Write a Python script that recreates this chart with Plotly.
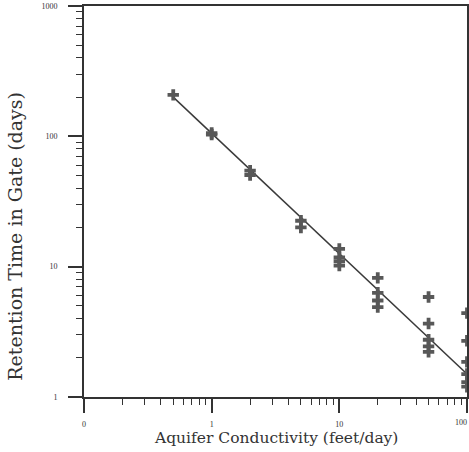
import plotly.graph_objects as go

# Data (log-log)
conductivity = [0.5, 1, 1, 2, 2, 5, 5, 10, 10, 10, 10, 20, 20, 20, 20,
                50, 50, 50, 50, 50, 100, 100, 100, 100, 100, 100]
retention = [208, 103, 106, 54.5, 50.5, 22.5, 20, 13.7, 11.8, 11, 10.2,
             8.2, 6.3, 5.5, 4.9, 5.85, 3.66, 2.75, 2.45, 2.22,
             4.4, 2.7, 1.86, 1.5, 1.3, 1.2]

fit_x = [0.5, 100]
fit_y = [200, 1.5]

x_tickvals = [0.1, 1, 10, 100]
x_ticktext = ["0", "1", "10", "100"]
y_tickvals = [1, 10, 100, 1000]
y_ticktext = ["1", "10", "100", "1000"]

x_minor = [m * d for d in [0.1, 1, 10] for m in range(2, 10)]
y_minor = [m * d for d in [1, 10, 100] for m in range(2, 10)]

ink = "#333333"
serif = "DejaVu Serif"
tickfont = dict(family="Liberation Serif", size=8, color=ink)

fig = go.Figure()
fig.add_trace(go.Scatter(x=fit_x, y=fit_y, mode="lines",
                         line=dict(color="#3a3a3a", width=1.5),
                         showlegend=False, hoverinfo="skip"))
fig.add_trace(go.Scatter(x=conductivity, y=retention, mode="markers",
                         marker=dict(symbol="cross", size=9.5, color="#585858",
                                     line=dict(width=0)),
                         cliponaxis=False, showlegend=False))

axis_common = dict(
    type="log", showgrid=False, zeroline=False,
    showline=True, linecolor=ink, linewidth=2, mirror=True,
    ticks="outside", ticklen=14, tickwidth=1.5, tickcolor=ink,
    tickmode="array", tickfont=tickfont, automargin=False,
)

fig.update_xaxes(**axis_common, range=[-1, 2],
                 tickvals=x_tickvals, ticktext=x_ticktext,
                 ticklabelstandoff=4,
                 minor=dict(tickmode="array", tickvals=x_minor, ticks="outside",
                            ticklen=6, tickwidth=1.2, tickcolor=ink, showgrid=False))
fig.update_yaxes(**axis_common, range=[0, 3],
                 tickvals=y_tickvals, ticktext=y_ticktext,
                 ticklabelstandoff=9,
                 minor=dict(tickmode="array", tickvals=y_minor, ticks="outside",
                            ticklen=6, tickwidth=1.2, tickcolor=ink, showgrid=False))

# last x tick label at the right edge, nudged inward so it stays fully visible
fig.add_annotation(text=x_ticktext[-1], xref="paper", yref="paper",
                   x=1, y=0, yshift=-25, xshift=-6, xanchor="center", yanchor="middle",
                   showarrow=False, font=tickfont)

fig.add_annotation(text="Aquifer Conductivity (feet/day)", xref="paper", yref="paper",
                   x=0.501, y=0, yshift=-41, xanchor="center", yanchor="middle",
                   showarrow=False, font=dict(family=serif, size=15.5, color=ink))
fig.add_annotation(text="Retention Time in Gate (days)", xref="paper", yref="paper",
                   x=-0.18, y=0.41, xanchor="center", yanchor="middle", textangle=-90,
                   showarrow=False, font=dict(family=serif, size=19, color=ink))

fig.update_layout(width=469, height=452,
                  margin=dict(l=84, r=2, t=6, b=55),
                  paper_bgcolor="white", plot_bgcolor="white")

fig.write_html("out.html", config={"displayModeBar": False},
               post_script="document.body.style.margin='0';document.body.style.overflow='hidden';")
